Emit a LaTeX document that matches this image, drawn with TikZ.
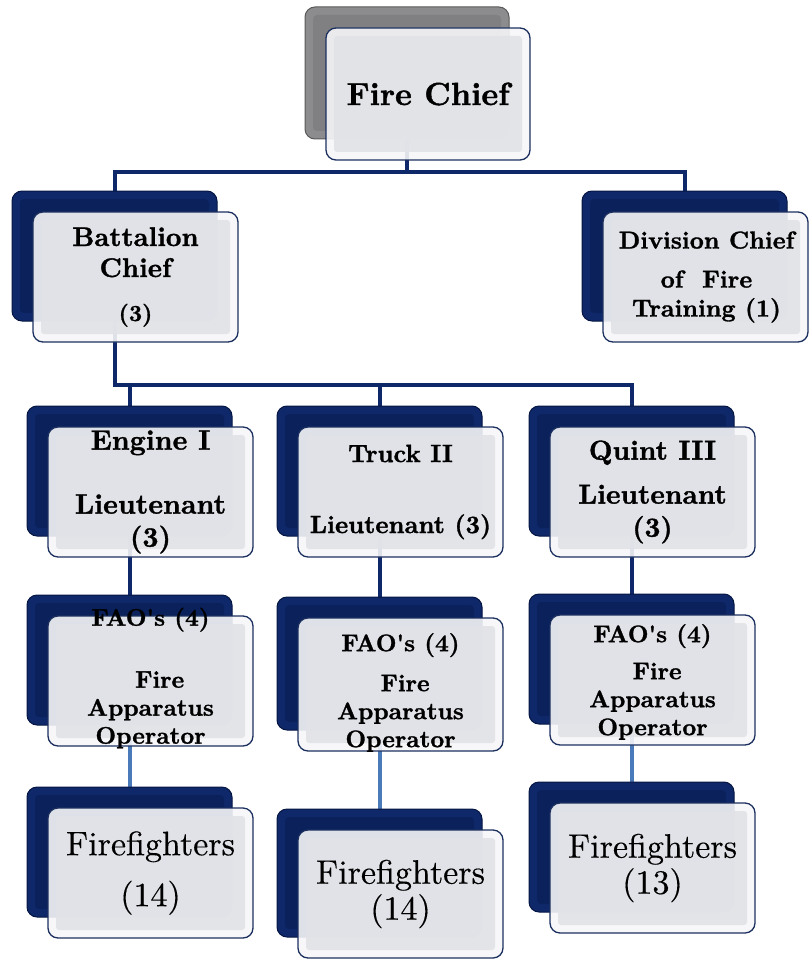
\documentclass[tikz,border=0pt]{standalone}
\usepackage{fontspec}
\setmainfont{lmroman10}[Extension=.otf, UprightFont=*-regular, BoldFont=*-bold, BoldFeatures={FakeBold=1.2}, UprightFeatures={FakeBold=0.3}]
\definecolor{bnavy}{RGB}{14,40,105}
\definecolor{bnavyedge}{RGB}{6,22,66}
\definecolor{bnavyin}{RGB}{10,33,92}
\definecolor{chiefgray}{RGB}{140,140,142}
\definecolor{chiefgrayin}{RGB}{128,128,130}
\definecolor{frontface}{RGB}{226,227,231}
\definecolor{frontrim}{RGB}{246,246,248}
\definecolor{frontedge}{RGB}{28,48,95}
\definecolor{linenavy}{RGB}{14,40,105}
\definecolor{lineblue}{RGB}{74,122,185}
\pgfdeclarelayer{connlayer}
\pgfsetlayers{connlayer,main}
\tikzset{
  backbox/.style={anchor=north west, rounded corners=10pt, inner sep=0pt, outer sep=0pt,
    draw=bnavyedge, line width=1pt, fill=bnavy,
    path picture={\fill[bnavyin,rounded corners=4pt] ([xshift=8pt,yshift=8pt]path picture bounding box.south west) rectangle ([xshift=-8pt,yshift=-8pt]path picture bounding box.north east);}},
  graybox/.style={draw=gray!70!black, fill=chiefgray,
    path picture={\fill[chiefgrayin,rounded corners=4pt] ([xshift=8pt,yshift=8pt]path picture bounding box.south west) rectangle ([xshift=-8pt,yshift=-8pt]path picture bounding box.north east);}},
  frontbox/.style={anchor=north west, rounded corners=10pt, inner sep=0pt, outer sep=0pt,
    draw=frontedge, line width=1.3pt, fill=frontrim, fill opacity=0.9,
    path picture={\fill[frontface,fill opacity=0.9,rounded corners=3pt] ([xshift=8pt,yshift=8pt]path picture bounding box.south west) rectangle ([xshift=-8pt,yshift=-8pt]path picture bounding box.north east);}},
  boxtext/.style={align=center, inner sep=0pt, text=black},
  navyline/.style={draw=linenavy, line width=4pt},
  blueline/.style={draw=lineblue, line width=4pt},
}
\newcommand\orgunit[8]{%
  \node[backbox,#6,minimum width=#4pt,minimum height=#5pt] (#1B) at ({#2-21},{#3-21}) {};
  \node[frontbox,minimum width=#4pt,minimum height=#5pt] (#1F) at (#2,#3) {};
  \node[boxtext,#7] (#1T) at (#1F.center) {#8};
}
\begin{document}
\begin{tikzpicture}[x=1pt,y=-1pt]
\useasboundingbox (0,0) rectangle (808,960);
% boxes
\orgunit{fc}{326}{28}{204}{132}{graybox}{font=\fontsize{32}{36}\selectfont\bfseries}{Fire Chief}
\orgunit{bc}{33}{212}{205}{130}{}{font=\fontsize{27}{31}\selectfont\bfseries}{Battalion\\Chief\\[13pt]{\fontsize{23}{26}\selectfont (3)}}
\orgunit{dc}{603}{212}{205}{130}{}{font=\fontsize{24.5}{29}\selectfont\bfseries,xshift=1pt}{Division Chief\\[10pt]of\ \ Fire\\Training (1)}
\orgunit{el}{48}{427}{205}{130}{}{font=\fontsize{28}{33}\selectfont\bfseries}{Engine I\\[31pt]Lieutenant\\(3)}
\orgunit{tl}{298}{427}{205}{130}{}{font=\fontsize{25}{30}\selectfont\bfseries}{Truck II\\[41pt]Lieutenant (3)}
\orgunit{ql}{550}{427}{205}{130}{}{font=\fontsize{27.5}{33}\selectfont\bfseries}{Quint III\\[11pt]Lieutenant\\(3)}
\orgunit{ef}{48}{616}{205}{130}{}{font=\fontsize{24}{28}\selectfont\bfseries,yshift=3pt}{FAO\textquotesingle s (4)\\[34pt]\ \ Fire\\Apparatus\\Operator}
\orgunit{tf}{298}{618}{205}{133}{}{font=\fontsize{24}{28}\selectfont\bfseries,yshift=-8pt}{FAO\textquotesingle s (4)\\[12pt]\ Fire\\Apparatus\\Operator}
\orgunit{qf}{550}{615}{205}{130}{}{font=\fontsize{24}{28}\selectfont\bfseries,yshift=-2pt}{FAO\textquotesingle s (4)\\[9pt]\ Fire\\Apparatus\\Operator}
\orgunit{eff}{48}{808}{205}{130}{}{font=\fontsize{34}{38}\selectfont}{Firefighters\\[13pt](14)}
\orgunit{tff}{298}{830}{205}{128}{}{font=\fontsize{34}{36}\selectfont}{Firefighters\\(14)}
\orgunit{qff}{550}{803}{205}{130}{}{font=\fontsize{34}{36}\selectfont}{Firefighters\\(13)}
% connectors
\begin{pgfonlayer}{connlayer}
\coordinate (bar1) at (0,172);
\coordinate (bar2) at (0,385);
\draw[navyline] (fcB.south) -- (fcB.south |- bar1) -| (bcB.north);
\draw[navyline] (fcB.south |- bar1) -| (dcB.north);
\draw[navyline] (bcB.south) -- (bcB.south |- bar2) -| (elB.north);
\draw[navyline] (bcB.south |- bar2) -| (tlB.north);
\draw[navyline] (bcB.south |- bar2) -| (qlB.north);
\draw[navyline] (elB.south) -- (efB.north);
\draw[navyline] (tlB.south) -- (tfB.north);
\draw[navyline] (qlB.south) -- (qfB.north);
\draw[blueline] (efB.south) -- (effB.north);
\draw[blueline] (tfB.south) -- (tffB.north);
\draw[blueline] (qfB.south) -- (qffB.north);
\end{pgfonlayer}
\end{tikzpicture}
\end{document}
